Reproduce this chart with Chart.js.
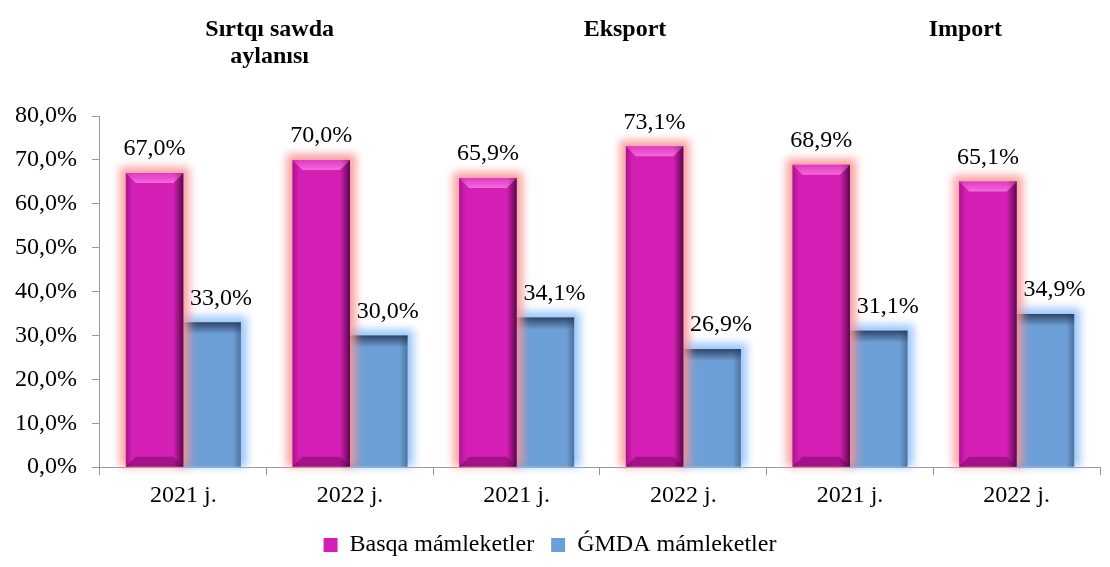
<!DOCTYPE html>
<html lang="kaa">
<head>
<meta charset="UTF-8">
<title>Sırtqı sawda aylanısı</title>
<script src="https://cdn.jsdelivr.net/npm/chart.js"></script>
<style>
  html, body { margin: 0; padding: 0; background: #fff; }
  #wrap { width: 1110px; height: 567px; }
</style>
</head>
<body>
<div id="wrap"><canvas id="tradeChart"></canvas></div>
<script>
// data
const categories = ['2021 j.', '2022 j.', '2021 j.', '2022 j.', '2021 j.', '2022 j.'];
const groupTitles = [['Sırtqı sawda', 'aylanısı'], ['Eksport'], ['Import']];
const otherCountries = [67.0, 70.0, 65.9, 73.1, 68.9, 65.1];
const cisCountries = [33.0, 30.0, 34.1, 26.9, 31.1, 34.9];
const seriesNames = ['Basqa mámleketler', 'ǴMDA mámleketler'];
const yTicks = [0, 10, 20, 30, 40, 50, 60, 70, 80];

const fmt = v => v.toFixed(1).replace('.', ',') + '%';
const serif = '"Liberation Serif", "DejaVu Serif", serif';
const glowColors = ['rgba(248, 150, 150, 0.9)', 'rgba(150, 195, 250, 0.95)'];

// soft halo behind each bar, then bevel shading on top
const glowPlugin = {
    id: 'glow',
    beforeDatasetDraw(chart, args) {
        const ctx = chart.ctx;
        ctx.save();
        ctx.filter = 'blur(4px)';
        ctx.fillStyle = glowColors[args.index];
        args.meta.data.forEach(bar => {
            const x0 = bar.x - bar.width / 2;
            ctx.fillRect(x0 - 6, bar.y - 6, bar.width + 12, bar.base - bar.y + 6);
        });
        ctx.restore();
    },
    afterDatasetDraw(chart, args) {
        const ctx = chart.ctx;
        args.meta.data.forEach(bar => {
            const x0 = bar.x - bar.width / 2, x1 = bar.x + bar.width / 2;
            const top = bar.y, bottom = bar.base;
            ctx.save();
            if (args.index === 0) {
                let g = ctx.createLinearGradient(x1 - 10, 0, x1, 0);
                g.addColorStop(0, 'rgba(50, 0, 40, 0)');
                g.addColorStop(1, 'rgba(50, 0, 40, 0.75)');
                ctx.fillStyle = g;
                ctx.fillRect(x1 - 10, top, 10, bottom - top);
                g = ctx.createLinearGradient(x0, 0, x0 + 7, 0);
                g.addColorStop(0, 'rgba(120, 0, 100, 0.45)');
                g.addColorStop(1, 'rgba(120, 0, 100, 0)');
                ctx.fillStyle = g;
                ctx.fillRect(x0, top, 7, bottom - top);
                g = ctx.createLinearGradient(0, top, 0, top + 10);
                g.addColorStop(0, 'rgba(255, 110, 225, 0.35)');
                g.addColorStop(1, 'rgba(255, 140, 235, 0.7)');
                ctx.fillStyle = g;
                ctx.beginPath();
                ctx.moveTo(x0, top); ctx.lineTo(x1, top);
                ctx.lineTo(x1 - 10, top + 10); ctx.lineTo(x0 + 10, top + 10);
                ctx.closePath(); ctx.fill();
                ctx.fillStyle = 'rgba(90, 0, 70, 0.4)';
                ctx.beginPath();
                ctx.moveTo(x0, bottom); ctx.lineTo(x1, bottom);
                ctx.lineTo(x1 - 10, bottom - 10); ctx.lineTo(x0 + 10, bottom - 10);
                ctx.closePath(); ctx.fill();
            } else {
                let g = ctx.createLinearGradient(0, top, 0, top + 12);
                g.addColorStop(0, 'rgba(40, 60, 90, 0.9)');
                g.addColorStop(1, 'rgba(40, 60, 90, 0)');
                ctx.fillStyle = g;
                ctx.fillRect(x0, top, x1 - x0, 12);
                g = ctx.createLinearGradient(x1 - 8, 0, x1, 0);
                g.addColorStop(0, 'rgba(40, 60, 90, 0)');
                g.addColorStop(1, 'rgba(40, 60, 90, 0.45)');
                ctx.fillStyle = g;
                ctx.fillRect(x1 - 8, top, 8, bottom - top);
            }
            ctx.restore();
        });
    }
};

// value labels and group titles
const labelPlugin = {
    id: 'labels',
    afterDatasetsDraw(chart) {
        const ctx = chart.ctx;
        ctx.save();
        ctx.fillStyle = '#000';
        ctx.textAlign = 'center';
        ctx.textBaseline = 'bottom';
        ctx.font = '24px ' + serif;
        chart.data.datasets.forEach((ds, di) => {
            const dx = di === 1 ? 9 : 0;
            chart.getDatasetMeta(di).data.forEach((bar, i) => {
                ctx.fillText(fmt(ds.data[i]), bar.x + dx, bar.y - 12);
            });
        });
        // titles above each pair of columns
        const xs = chart.scales.x;
        const shift = [3, 25, 32];
        ctx.font = 'bold 24px ' + serif;
        ctx.textBaseline = 'middle';
        groupTitles.forEach((lines, g) => {
            const cx = (xs.getPixelForValue(g * 2) + xs.getPixelForValue(g * 2 + 1)) / 2 + shift[g];
            lines.forEach((t, li) => ctx.fillText(t, cx, 30 + li * 27));
        });
        ctx.restore();
    }
};

new Chart(document.getElementById('tradeChart'), {
    type: 'bar',
    data: {
        labels: categories,
        datasets: [
            { label: seriesNames[0], data: otherCountries, backgroundColor: '#d41fb4', borderWidth: 0 },
            { label: seriesNames[1], data: cisCountries, backgroundColor: '#6d9fd7', borderWidth: 0 }
        ]
    },
    options: {
        responsive: true,
        maintainAspectRatio: false,
        animation: false,
        layout: { padding: { top: 116, right: 10, left: 0, bottom: 0 } },
        datasets: { bar: { categoryPercentage: 0.69, barPercentage: 1.0 } },
        plugins: {
            legend: {
                position: 'bottom',
                labels: {
                    color: '#000',
                    font: { family: serif, size: 24 },
                    boxWidth: 14,
                    boxHeight: 14,
                    padding: 17
                }
            },
            tooltip: { enabled: false }
        },
        scales: {
            x: {
                grid: { drawOnChartArea: false, color: '#999', tickLength: 8 },
                border: { color: '#999' },
                ticks: { color: '#000', font: { family: serif, size: 24 }, padding: 6 }
            },
            y: {
                min: 0,
                max: 80,
                afterBuildTicks: axis => { axis.ticks = yTicks.map(v => ({ value: v })); },
                grid: { drawOnChartArea: false, color: '#999', tickLength: 8 },
                border: { color: '#999' },
                ticks: {
                    color: '#000',
                    font: { family: serif, size: 24 },
                    padding: 15,
                    callback: v => fmt(v)
                }
            }
        }
    },
    plugins: [glowPlugin, labelPlugin]
});
</script>
</body>
</html>
